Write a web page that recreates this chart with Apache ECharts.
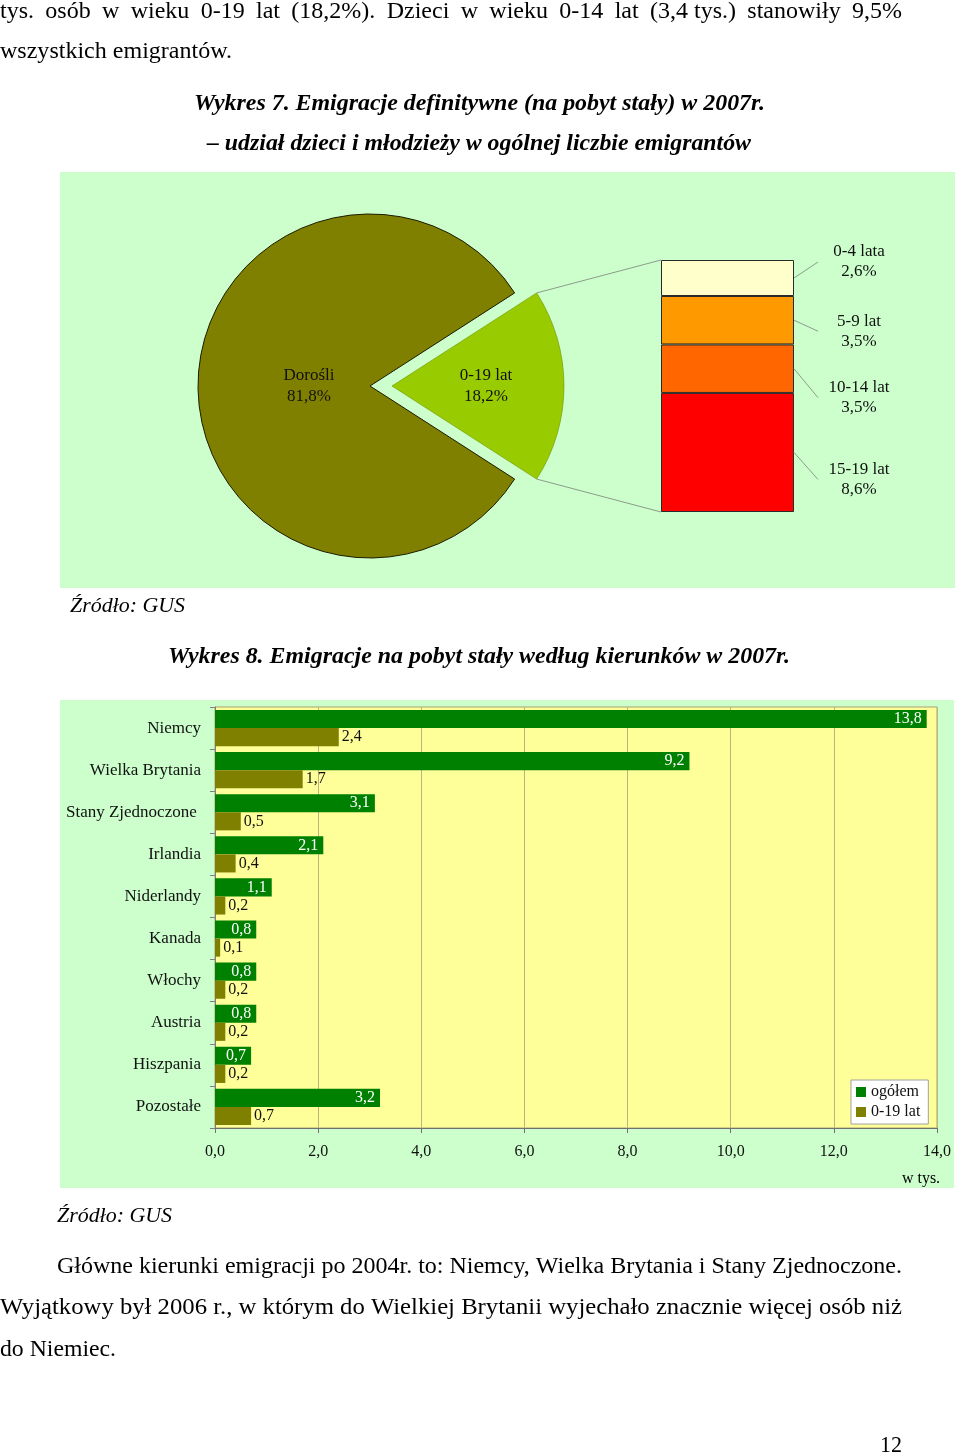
<!DOCTYPE html>
<html><head><meta charset="utf-8">
<script src="https://cdn.jsdelivr.net/npm/echarts@6/dist/echarts.min.js"></script>
<style>html,body{margin:0;padding:0;background:#fff}#c{width:960px;height:1456px}</style>
</head><body><div id="c"></div>
<script>
// ---- data ----
const pieNames = ['0-19 lat', 'Dorośli'];
const pieValues = [18.2, 81.8];
const ageNames = ['15-19 lat', '10-14 lat', '5-9 lat', '0-4 lata'];
const ageValues = [8.6, 3.5, 3.5, 2.6];
const countries = ['Niemcy', 'Wielka Brytania', 'Stany Zjednoczone ', 'Irlandia', 'Niderlandy', 'Kanada', 'Włochy', 'Austria', 'Hiszpania', 'Pozostałe'];
const totalValues = [13.8, 9.2, 3.1, 2.1, 1.1, 0.8, 0.8, 0.8, 0.7, 3.2];
const youthValues = [2.4, 1.7, 0.5, 0.4, 0.2, 0.1, 0.2, 0.2, 0.2, 0.7];
const barSeriesNames = ['ogółem', '0-19 lat'];
const xAxisMin = 0, xAxisMax = 14, xAxisInterval = 2;

// ---- styles / layout ----
const SERIF = '"Liberation Serif","Times New Roman",serif';
const BODY = '24px ' + SERIF;
const TITLE = 'italic bold 23px ' + SERIF;
const ITAL = 'italic 22px ' + SERIF;
const pieColors = ['#99CC00', '#808000'];
const ageColors = ['#FF0000', '#FF6600', '#FF9900', '#FFFFCC'];
const ageLabelDy = [27, 29, 11, -16];
const barColors = ['#008000', '#808000'];
const PIE = {cx: 370, cy: 386, r: 172, offset: 22};
const G0 = {left: 661, top: 260, width: 133, height: 252};
const G1 = {left: 215, top: 707, width: 722, height: 421};

const fmt = v => Number(v).toFixed(1).replace('.', ',');

const ctx = document.createElement('canvas').getContext('2d');
function mw(t, font) { ctx.font = font; return ctx.measureText(t).width; }
let gid = 0;
function txt(text, x, y, font, align, sx) {
  return {type: 'text', id: 't' + (gid++), x: x, y: y, scaleX: sx || 1, z: 10,
    style: {text: text, font: font, fill: '#000', textAlign: align || 'left', textVerticalAlign: 'middle'}};
}
function fit(text, x0, x1, y, font) {
  const w = mw(text, font);
  return [txt(text, x0, y, font, 'left', (x1 - x0) / w)];
}
function justify(text, x0, x1, y, font) {
  const words = text.split(' ');
  const ws = words.map(w => mw(w, font));
  const full = mw(text, font);
  const span = x1 - x0;
  if (full >= span) return fit(text, x0, x1, y, font);
  const gap = (span - ws.reduce((a, b) => a + b, 0)) / (words.length - 1);
  let x = x0; const out = [];
  words.forEach((w, i) => { out.push(txt(w, x, y, font)); x += ws[i] + gap; });
  return out;
}

const elements = [
  {type: 'rect', id: 'bg1', z: -10, shape: {x: 60, y: 172, width: 895, height: 416}, style: {fill: '#CCFFCC'}},
  {type: 'rect', id: 'bg2', z: -10, shape: {x: 60, y: 700, width: 894, height: 488}, style: {fill: '#CCFFCC'}},
  ...justify('tys. osób w wieku 0-19 lat (18,2%). Dzieci w wieku 0-14 lat (3,4\u00a0tys.) stanowiły 9,5%', 0, 902, 12, BODY),
  ...fit('wszystkich emigrantów.', 0, 232, 52, BODY),
  ...fit('Wykres 7. Emigracje definitywne (na pobyt stały) w 2007r.', 194, 765, 104, TITLE),
  ...fit('– udział dzieci i młodzieży w ogólnej liczbie emigrantów', 207, 751, 144, TITLE),
  ...fit('Źródło: GUS', 70, 185, 606, ITAL),
  ...fit('Wykres 8. Emigracje na pobyt stały według kierunków w 2007r.', 168, 790, 657, TITLE),
  ...fit('Źródło: GUS', 57, 172, 1216, ITAL),
  ...fit('Główne kierunki emigracji po 2004r. to: Niemcy, Wielka Brytania i Stany Zjednoczone.', 57, 902, 1267, BODY),
  ...fit('Wyjątkowy był 2006 r., w którym do Wielkiej Brytanii wyjechało znacznie więcej osób niż', 0, 902, 1308, BODY),
  ...fit('do Niemiec.', 0, 116, 1350, BODY),
  ...fit('12', 880, 902, 1446, BODY),
  txt('w tys.', 921, 1179, '16px ' + SERIF, 'center')
];

const pieSum = pieValues.reduce((a, b) => a + b, 0);
const startAngle = pieValues[0] / pieSum * 180;
const ageSum = ageValues.reduce((a, b) => a + b, 0);

const series = [];
series.push({
  type: 'pie', center: [PIE.cx, PIE.cy], radius: PIE.r, startAngle: startAngle, clockwise: true,
  selectedMode: 'single', selectedOffset: PIE.offset, silent: true, avoidLabelOverlap: false,
  emphasis: {disabled: true},
  label: {show: true, position: 'inside', fontFamily: SERIF, fontSize: 17, lineHeight: 21, color: '#111',
    formatter: p => p.name + '\n' + fmt(p.value) + '%'},
  labelLine: {show: false},
  labelLayout: p => (p.dataIndex === 1 ? {dx: 14} : {dx: 5}),
  data: pieNames.map((n, i) => ({name: n, value: pieValues[i], selected: i === 0,
    itemStyle: {color: pieColors[i], borderColor: i === 0 ? '#6f8f00' : '#1a1a00', borderWidth: i === 0 ? 0.6 : 1}}))
});
ageNames.forEach((n, i) => {
  series.push({
    type: 'bar', name: n, xAxisIndex: 0, yAxisIndex: 0, stack: 'age', barWidth: '100%', silent: true,
    data: [ageValues[i]],
    itemStyle: {color: ageColors[i], borderColor: '#2a2a2a', borderWidth: 1},
    label: {show: true, position: ['100%', '50%'], offset: [65, ageLabelDy[i]], align: 'center', verticalAlign: 'middle',
      fontFamily: SERIF, fontSize: 17, lineHeight: 20, color: '#111',
      formatter: p => p.seriesName + '\n' + fmt(p.value) + '%'}
  });
});
[totalValues, youthValues].forEach((vals, i) => {
  series.push({
    type: 'bar', name: barSeriesNames[i], xAxisIndex: 1, yAxisIndex: 1, data: vals, silent: true,
    barGap: '0%', barCategoryGap: '14%',
    itemStyle: {color: barColors[i]},
    label: {show: true, position: i === 0 ? 'insideRight' : 'right', distance: i === 0 ? 5 : 3,
      color: i === 0 ? '#fff' : '#111', fontFamily: SERIF, fontSize: 16, formatter: p => fmt(p.value)}
  });
});

const option = {
  animation: false,
  backgroundColor: '#fff',
  graphic: {elements: elements},
  grid: [
    Object.assign({containLabel: false}, G0),
    Object.assign({containLabel: false, show: true, backgroundColor: '#FFFF99', borderColor: '#A8A070', borderWidth: 1}, G1)
  ],
  xAxis: [
    {gridIndex: 0, type: 'category', data: [''], show: false},
    {gridIndex: 1, type: 'value', min: xAxisMin, max: xAxisMax, interval: xAxisInterval,
      axisLine: {show: true, lineStyle: {color: '#707070'}},
      axisTick: {show: true, length: 5, lineStyle: {color: '#707070'}},
      axisLabel: {margin: 16, color: '#111', fontFamily: SERIF, fontSize: 16, formatter: v => fmt(v)},
      splitLine: {show: true, lineStyle: {color: '#BDB57C', width: 1}}}
  ],
  yAxis: [
    {gridIndex: 0, type: 'value', min: 0, max: ageSum, show: false},
    {gridIndex: 1, type: 'category', data: countries, inverse: true,
      axisLine: {show: true, lineStyle: {color: '#808080'}},
      axisTick: {show: true, length: 5, lineStyle: {color: '#808080'}},
      axisLabel: {margin: 14, color: '#111', fontFamily: SERIF, fontSize: 17},
      splitLine: {show: false}}
  ],
  legend: {
    data: barSeriesNames, orient: 'vertical', left: 851, top: 1080, icon: 'rect',
    itemWidth: 10, itemHeight: 10, itemGap: 4, padding: [4, 8, 4, 5],
    backgroundColor: '#fff', borderColor: '#a0a0a0', borderWidth: 1,
    textStyle: {fontFamily: SERIF, fontSize: 16, color: '#111'}, selectedMode: false
  },
  series: series
};

const chart = echarts.init(document.getElementById('c'));
chart.setOption(option);

// connector lines (computed from scales)
const extra = [];
const rad = startAngle * Math.PI / 180;
const sx = PIE.cx + PIE.offset + PIE.r * Math.cos(rad);
const syTop = PIE.cy - PIE.r * Math.sin(rad);
const syBot = PIE.cy + PIE.r * Math.sin(rad);
const colTop = chart.convertToPixel({yAxisIndex: 0}, ageSum);
const colBot = chart.convertToPixel({yAxisIndex: 0}, 0);
const lineStyle = {stroke: '#8c9c8c', lineWidth: 1};
extra.push({type: 'line', id: 'c1', z: 5, shape: {x1: sx, y1: syTop, x2: G0.left, y2: colTop}, style: lineStyle});
extra.push({type: 'line', id: 'c2', z: 5, shape: {x1: sx, y1: syBot, x2: G0.left, y2: colBot}, style: lineStyle});
let cum = 0;
ageValues.forEach((v, i) => {
  const mid = chart.convertToPixel({yAxisIndex: 0}, cum + v / 2);
  cum += v;
  const xr = G0.left + G0.width;
  extra.push({type: 'line', id: 'l' + i, z: 5, shape: {x1: xr, y1: mid, x2: xr + 24, y2: mid + ageLabelDy[i]}, style: lineStyle});
});
chart.setOption({graphic: {elements: extra}});
</script>
</body></html>
